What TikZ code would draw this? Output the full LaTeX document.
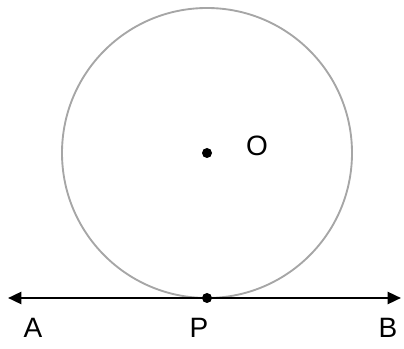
\documentclass[tikz,border=0pt]{standalone}
\usepackage{fontspec}
\setmainfont{Liberation Sans}
\usetikzlibrary{arrows.meta}
\begin{document}
\begin{tikzpicture}[x=0.75pt,y=-0.75pt,
  lbl/.style={font=\fontsize{21}{24}\selectfont, inner sep=0pt},
  dotnode/.style={circle, fill=black, inner sep=0pt, minimum size=7.5pt}]
\useasboundingbox (0,0) rectangle (404,349);
\draw[gray!70, line width=1.4pt] (207,153) circle (145);
\node[dotnode] (O) at (207,153) {};
\node[dotnode] (P) at (207,298) {};
\coordinate (A) at (8,298);
\coordinate (B) at (401,298);
\draw[line width=1.8pt, {Triangle[length=10pt,width=9pt]}-{Triangle[length=10pt,width=9pt]}] (A) -- (B);
\node[lbl] (lO) at (257,146) {O};
\node[lbl] (lA) at (33,328) {A};
\node[lbl] (lP) at (199,328) {P};
\node[lbl] (lB) at (388,328) {B};
\end{tikzpicture}
\end{document}
